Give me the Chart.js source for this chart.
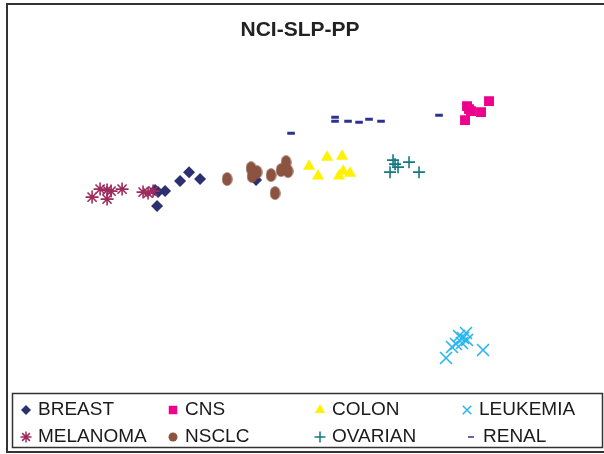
<!DOCTYPE html>
<html>
<head>
<meta charset="utf-8">
<script src="https://cdn.jsdelivr.net/npm/chart.js@4/dist/chart.umd.min.js"></script>
<style>
  html, body { margin: 0; padding: 0; background: #fff; }
  canvas { display: block; }
</style>
</head>
<body>
<canvas id="c" width="604" height="454"></canvas>
<script>
// ---- data ----
const categories = ["BREAST", "CNS", "COLON", "LEUKEMIA", "MELANOMA", "NSCLC", "OVARIAN", "RENAL"];

const breastX   = [-1.45, -1.42, -1.35, -1.43, -1.20, -1.11, -1.00, -0.44];
const breastY   = [0.40, 0.38, 0.39, 0.24, 0.49, 0.58, 0.51, 0.50];

const cnsX      = [1.67, 1.71, 1.65, 1.81, 1.89, 1.69];
const cnsY      = [1.24, 1.19, 1.10, 1.18, 1.29, 1.21];

const colonX    = [0.09, 0.18, 0.27, 0.42, 0.39, 0.43, 0.50];
const colonY    = [0.64, 0.54, 0.73, 0.74, 0.54, 0.59, 0.57];

const leukemiaX = [1.46, 1.83, 1.66, 1.59, 1.62, 1.56, 1.52, 1.67, 1.63];
const leukemiaY = [-1.28, -1.20, -1.03, -1.06, -1.13, -1.14, -1.17, -1.10, -1.08];

const melanomaX = [-2.08, -2.00, -1.93, -1.93, -1.89, -1.78, -1.57, -1.52, -1.47];
const melanomaY = [0.33, 0.41, 0.40, 0.31, 0.39, 0.41, 0.38, 0.37, 0.39];

const nsclcX    = [-0.73, -0.49, -0.48, -0.43, -0.29, -0.25, -0.19, -0.14, -0.12];
const nsclcY    = [0.51, 0.62, 0.54, 0.58, 0.55, 0.37, 0.60, 0.68, 0.59];

const ovarianX  = [0.93, 0.95, 0.98, 1.09, 0.90, 1.19];
const ovarianY  = [0.70, 0.66, 0.63, 0.68, 0.58, 0.58];

const renalX    = [-0.09, 0.35, 0.35, 0.48, 0.59, 0.69, 0.81, 1.39];
const renalY    = [0.97, 1.13, 1.09, 1.09, 1.08, 1.11, 1.09, 1.15];

const seriesX = [breastX, cnsX, colonX, leukemiaX, melanomaX, nsclcX, ovarianX, renalX];
const seriesY = [breastY, cnsY, colonY, leukemiaY, melanomaY, nsclcY, ovarianY, renalY];

// ---- styles ----
const colors  = ["#2b3170", "#ec008c", "#fff200", "#29b6ef", "#9e2a5e", "#8b5440", "#147a80", "#2e3192"];

// ellipse marker for NSCLC (vertical oval, as in the reference)
function ellipseMarker(color, w, h) {
  const c = document.createElement('canvas');
  c.width = w; c.height = h;
  const g = c.getContext('2d');
  g.fillStyle = color;
  g.beginPath();
  g.ellipse(w / 2, h / 2, w / 2 - 0.3, h / 2 - 0.3, 0, 0, Math.PI * 2);
  g.fill();
  return c;
}

const styles  = ["rectRot", "rect", "triangle", "crossRot", "star", ellipseMarker(colors[5], 11, 14), "cross", "line"];
const legendStyles = ["rectRot", "rect", "triangle", "crossRot", "star", "circle", "cross", "line"];
const radii   = [6, 7, 7, 8.5, 6.5, 6, 6, 3.8];
const borders = [0, 0, 0, 1.6, 1.6, 0, 1.6, 3];
const legendRadii = [5, 6, 6, 6, 5.5, 4.5, 5.5, 3];

const datasets = categories.map((name, i) => ({
  label: name,
  order: categories.length - i, // later series drawn on top
  data: seriesX[i].map((x, k) => ({ x: x, y: seriesY[i][k] })),
  pointStyle: styles[i],
  pointRadius: radii[i],
  pointHoverRadius: radii[i],
  pointBorderWidth: borders[i],
  backgroundColor: colors[i],
  borderColor: colors[i],
  showLine: false
}));

// custom legend + frame drawn on the canvas
const legendFrame = {
  id: 'legendFrame',
  afterDraw(chart) {
    const ctx = chart.ctx;
    ctx.save();
    // outer frame
    ctx.strokeStyle = '#333';
    ctx.lineWidth = 2;
    ctx.beginPath();
    ctx.moveTo(604, 4); ctx.lineTo(7, 4); ctx.lineTo(7, 452); ctx.lineTo(604, 452);
    ctx.stroke();
    // legend box
    ctx.lineWidth = 1.5;
    ctx.strokeStyle = '#333';
    ctx.strokeRect(12.5, 393.5, 590, 54);
    // items
    const colX = [26, 173, 320, 467];
    const rowY = [409, 436];
    ctx.font = '19px "Liberation Sans", Arial, sans-serif';
    ctx.textBaseline = 'middle';
    ctx.textAlign = 'left';
    chart.data.datasets.forEach((ds, i) => {
      const cx = colX[i % 4] + (i === 7 ? 4 : 0);
      const cy = rowY[Math.floor(i / 4)];
      ctx.fillStyle = colors[i];
      ctx.strokeStyle = colors[i];
      Chart.helpers.drawPoint(ctx, {
        pointStyle: legendStyles[i],
        radius: legendRadii[i],
        rotation: 0,
        borderWidth: borders[i] || 0
      }, cx, cy + 1);
      ctx.fillStyle = '#1a1a1a';
      ctx.fillText(ds.label, cx + 12, cy + 1);
    });
    ctx.restore();
  }
};

new Chart(document.getElementById('c'), {
  type: 'scatter',
  data: { datasets: datasets },
  options: {
    responsive: false,
    animation: false,
    devicePixelRatio: 1,
    layout: { padding: { left: 10, right: 14, top: 8, bottom: 74 } },
    plugins: {
      legend: { display: false },
      tooltip: { enabled: false },
      title: {
        display: true,
        text: 'NCI-SLP-PP',
        color: '#222',
        font: { family: '"Liberation Sans", Arial, sans-serif', size: 21, weight: 'bold' },
        lineHeight: 1.2,
        padding: { top: 10, bottom: 9 }
      }
    },
    scales: {
      x: { type: 'linear', display: false, min: -2.9, max: 2.9 },
      y: { type: 'linear', display: false, min: -1.5, max: 1.78 }
    }
  },
  plugins: [legendFrame]
});
</script>
</body>
</html>
